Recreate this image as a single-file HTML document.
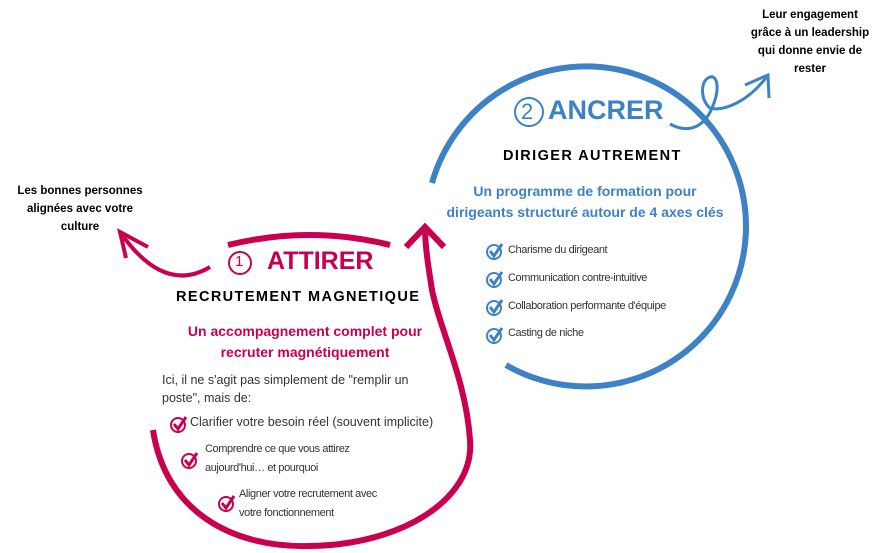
<!DOCTYPE html>
<html><head><meta charset="utf-8"><style>
body{margin:0;width:881px;height:553px;background:#fff;overflow:hidden;position:relative;font-family:"Liberation Sans","DejaVu Sans",sans-serif}
.t{position:absolute;white-space:nowrap}
.c{text-align:center}
.b{position:absolute;left:508px;font-size:11px;color:#333;letter-spacing:-0.4px;white-space:nowrap}
</style></head><body>
<svg width="881" height="553" style="position:absolute;left:0;top:0" fill="none" stroke-linecap="butt">
<path d="M432,183 A160,160 0 1 1 506,365" stroke="#3d82c4" stroke-width="6"/>
<path d="M670,124 C690,135 705,125 712,108 C720,90 718,75 710,77 C700,80 700,100 710,108 C725,112 750,100 768,75" stroke="#3d82c4" stroke-width="3"/>
<path d="M745,85 L768,75 L769,98" stroke="#3d82c4" stroke-width="3"/>
<path d="M228,245 Q310,225 390,245" stroke="#c8004f" stroke-width="6"/>
<path d="M153,430 C165,510 230,548 310,546 C400,545 475,500 470,440 C466,380 440,330 432,290 C428,265 425,245 425,227" stroke="#c8004f" stroke-width="6"/>
<path d="M406,247 L425,227 L444,247" stroke="#c8004f" stroke-width="6"/>
<path d="M210,267 C180,285 150,275 120,232" stroke="#c8004f" stroke-width="4"/>
<path d="M148,247 L120,232 L126,258" stroke="#c8004f" stroke-width="4"/>
<circle cx="240" cy="263" r="11" stroke="#c8004f" stroke-width="2"/>
<circle cx="529" cy="112" r="14" stroke="#3d82c4" stroke-width="2"/>
<g stroke-width="2">
<g stroke="#3d82c4">
<circle cx="494" cy="252" r="7"/><path d="M490,251 L494,256 L502,244" stroke-width="3"/>
<circle cx="494" cy="280" r="7"/><path d="M490,279 L494,284 L502,272" stroke-width="3"/>
<circle cx="494" cy="308" r="7"/><path d="M490,307 L494,312 L502,300" stroke-width="3"/>
<circle cx="494" cy="336" r="7"/><path d="M490,335 L494,340 L502,328" stroke-width="3"/>
</g>
<g stroke="#c8004f">
<circle cx="178" cy="425" r="7"/><path d="M174,424 L178,429 L186,417" stroke-width="3"/>
<circle cx="189" cy="461" r="7"/><path d="M185,460 L189,465 L197,453" stroke-width="3"/>
<circle cx="226" cy="504" r="7"/><path d="M222,503 L226,508 L234,496" stroke-width="3"/>
</g></g>
</svg>
<div class="t" style="left:235px;top:253px;font-size:15px;color:#c8004f">1</div>
<div class="t" style="left:521px;top:99px;font-size:22px;color:#3d82c4">2</div>
<div class="t" style="left:267px;top:247px;font-size:25px;font-weight:bold;color:#c8004f">ATTIRER</div>
<div class="t" style="left:548px;top:95px;font-size:27px;font-weight:bold;color:#3d82c4">ANCRER</div>
<div class="t" style="left:176px;top:289px;font-size:14.5px;font-weight:bold;letter-spacing:1.4px">RECRUTEMENT MAGNETIQUE</div>
<div class="t" style="left:503px;top:148px;font-size:14.5px;font-weight:bold;letter-spacing:1.4px">DIRIGER AUTREMENT</div>
<div class="t c" style="left:180px;top:321px;width:250px;font-size:14px;font-weight:bold;color:#c8004f;line-height:21px">Un accompagnement complet pour<br>recruter magnétiquement</div>
<div class="t c" style="left:430px;top:181px;width:310px;font-size:14px;font-weight:bold;color:#3d82c4;line-height:21px">Un programme de formation pour<br>dirigeants structuré autour de 4 axes clés</div>
<div class="t" style="left:162px;top:371px;font-size:12.5px;line-height:18px;color:#333">Ici, il ne s'agit pas simplement de "remplir un<br>poste", mais de:</div>
<div class="t" style="left:190px;top:415px;font-size:12.5px;color:#333">Clarifier votre besoin réel (souvent implicite)</div>
<div class="t" style="left:205px;top:440px;font-size:11px;line-height:19px;color:#333;letter-spacing:-0.4px">Comprendre ce que vous attirez<br>aujourd'hui… et pourquoi</div>
<div class="t" style="left:239px;top:485px;font-size:11px;line-height:19px;color:#333;letter-spacing:-0.4px">Aligner votre recrutement avec<br>votre fonctionnement</div>
<div class="b" style="top:244px">Charisme du dirigeant</div>
<div class="b" style="top:272px">Communication contre-intuitive</div>
<div class="b" style="top:300px">Collaboration performante d'équipe</div>
<div class="b" style="top:327px">Casting de niche</div>
<div class="t c" style="left:0px;top:182px;width:160px;font-size:11.5px;font-weight:bold;line-height:18px">Les bonnes personnes<br>alignées avec votre<br>culture</div>
<div class="t c" style="left:740px;top:6px;width:140px;font-size:11.5px;font-weight:bold;line-height:18px">Leur engagement<br>grâce à un leadership<br>qui donne envie de<br>rester</div>
</body></html>
